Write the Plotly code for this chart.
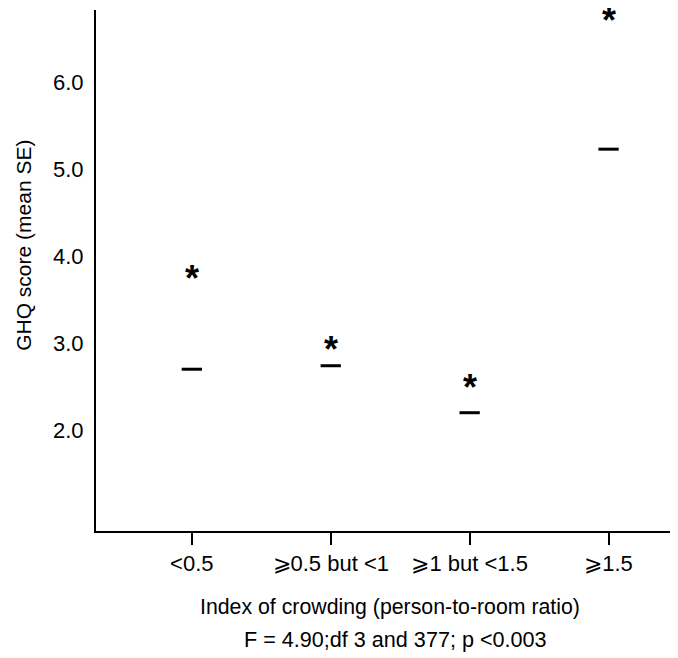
import plotly.graph_objects as go

categories = ["<0.5", "⩾0.5 but <1", "⩾1 but <1.5", "⩾1.5"]
asterisk_values = [3.80, 2.98, 2.54, 6.76]
dash_values = [2.70, 2.74, 2.20, 5.23]
y_tick_vals = [2.0, 3.0, 4.0, 5.0, 6.0]
y_tick_text = ["2.0", "3.0", "4.0", "5.0", "6.0"]

FONT = "Liberation Sans, Arial, Helvetica, sans-serif"
xpos = list(range(len(categories)))

fig = go.Figure()
fig.add_trace(go.Scatter(
    x=xpos, y=dash_values, mode="markers",
    marker=dict(symbol="line-ew-open", size=14.5, line=dict(width=3, color="black"), color="black"),
    showlegend=False, hoverinfo="skip", cliponaxis=False))

annotations = []
for xv, yv in zip(xpos, asterisk_values):
    annotations.append(dict(
        x=xv, y=yv, xref="x", yref="y", text="<b>*</b>", showarrow=False,
        xanchor="center", yanchor="middle", yshift=-4.5,
        font=dict(family=FONT, size=36, color="black")))

annotations += [
    dict(text="GHQ score (mean SE)", xref="paper", yref="paper", x=-0.124, y=0.549,
         textangle=-90, showarrow=False, font=dict(size=21), xanchor="center", yanchor="middle"),
    dict(text="Index of crowding (person-to-room ratio)", xref="paper", yref="paper",
         x=0.505, y=-0.146, showarrow=False, font=dict(size=21.3), xanchor="center", yanchor="middle"),
    dict(text="F = 4.90;df 3 and 377; p <0.003", xref="paper", yref="paper",
         x=0.514, y=-0.209, showarrow=False, font=dict(size=21.6), xanchor="center", yanchor="middle"),
]

fig.update_layout(
    width=670, height=650,
    margin=dict(l=88, r=0, t=2, b=127),
    paper_bgcolor="white", plot_bgcolor="white",
    font=dict(family=FONT, size=21, color="black"),
    xaxis=dict(range=[-0.69, 3.50], tickvals=xpos, ticktext=categories,
               showgrid=False, zeroline=False, showline=True, linecolor="black", linewidth=2,
               ticks="outside", ticklen=12, tickwidth=2, tickcolor="black",
               tickfont=dict(size=22)),
    yaxis=dict(range=[0.84, 6.83], tickvals=y_tick_vals, ticktext=y_tick_text,
               showgrid=False, zeroline=False, showline=True, linecolor="black", linewidth=2,
               ticks="", ticklabelstandoff=6, tickfont=dict(size=22)),
    annotations=annotations,
)
fig.write_html("out.html")
